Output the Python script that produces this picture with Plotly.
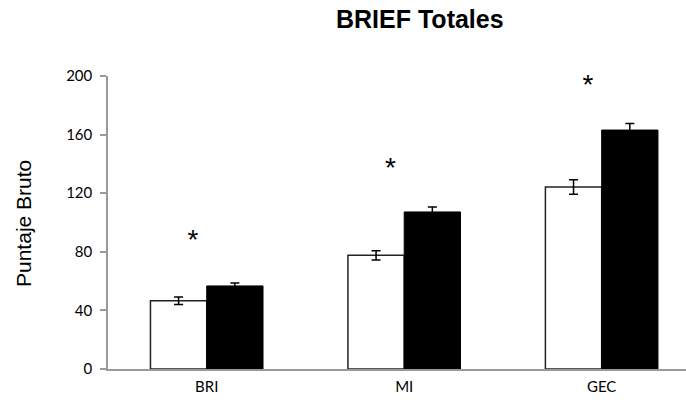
import plotly.graph_objects as go

categories = ["BRI", "MI", "GEC"]
control_vals = [46.6, 77.6, 124.2]
control_err = [2.5, 3.2, 4.9]
clinical_vals = [56.7, 107.2, 163.1]
clinical_err = [2.0, 3.4, 4.5]
sig_y = [86.5, 135.5, 192.5]
y_ticks = [0, 40, 80, 120, 160, 200]

xpos = list(range(len(categories)))

fig = go.Figure()
fig.add_trace(go.Bar(
    x=xpos, y=control_vals, name="Control",
    marker=dict(color="white", line=dict(color="#222222", width=1.5)),
    error_y=dict(type="data", array=control_err, color="black", thickness=1.5, width=4.5),
))
fig.add_trace(go.Bar(
    x=xpos, y=clinical_vals, name="Clinico",
    marker=dict(color="black", line=dict(color="black", width=1)),
    error_y=dict(type="data", array=clinical_err, color="black", thickness=1.5, width=4.5),
))
fig.add_trace(go.Scatter(
    x=[p - 0.07 for p in xpos], y=sig_y, mode="text", text=["*"] * len(xpos),
    textfont=dict(family="Liberation Sans", size=28, color="black"),
    textposition="middle center", hoverinfo="skip", cliponaxis=False,
))

fig.update_layout(
    width=686, height=406,
    margin=dict(l=108, r=0, t=76, b=37),
    paper_bgcolor="white", plot_bgcolor="white",
    showlegend=False,
    barmode="group", bargap=0.43, bargroupgap=0,
    xaxis=dict(
        range=[-0.5, 2.427], tickvals=xpos, ticktext=categories,
        showline=True, linecolor="#999999", linewidth=1.5, ticks="",
        showgrid=False, zeroline=False, ticklabelstandoff=3,
        tickfont=dict(family="Lato", size=15, color="black"),
    ),
    yaxis=dict(
        range=[0, 200], tickvals=y_ticks,
        showline=True, linecolor="#999999", linewidth=1.5,
        ticks="outside", ticklen=6, tickcolor="#999999", tickwidth=1.5,
        showgrid=False, zeroline=False, ticklabelstandoff=5,
        tickfont=dict(family="Lato", size=15, color="black"),
    ),
    annotations=[
        dict(text="<b>BRIEF Totales</b>", xref="paper", yref="paper",
             x=(420 - 108) / 578, y=1 + (76 - 19) / 293, xanchor="center", yanchor="middle",
             showarrow=False, font=dict(family="Liberation Sans", size=25, color="black")),
        dict(text="Puntaje Bruto", xref="paper", yref="paper",
             x=(23 - 108) / 578, y=(369 - 224) / 293, xanchor="center", yanchor="middle",
             textangle=-90, showarrow=False,
             font=dict(family="Liberation Sans", size=21, color="black")),
    ],
)

fig.write_html(
    "out.html",
    config={"displayModeBar": False},
    post_script="document.body.style.margin='0';document.body.style.overflow='hidden';",
)
